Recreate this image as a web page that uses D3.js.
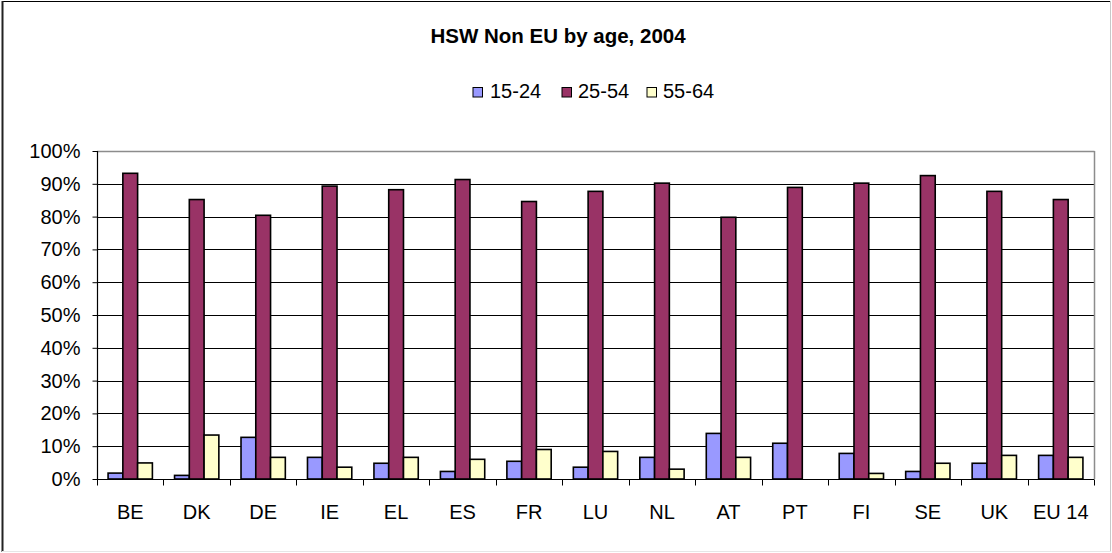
<!DOCTYPE html>
<html>
<head>
<meta charset="utf-8">
<script src="https://cdn.jsdelivr.net/npm/d3@7"></script>
<style>
  html, body { margin: 0; padding: 0; background: #fff; }
  svg { display: block; font-family: "Liberation Sans", Arial, sans-serif; }
</style>
</head>
<body>
<svg id="chart" width="1112" height="553"></svg>
<script>
const categories = ["BE","DK","DE","IE","EL","ES","FR","LU","NL","AT","PT","FI","SE","UK","EU 14"];
const seriesNames = ["15-24","25-54","55-64"];
const age15to24 = [1.8, 1.1, 12.7, 6.6, 4.8, 2.3, 5.4, 3.6, 6.6, 13.9, 10.9, 7.8, 2.3, 4.8, 7.2];
const age25to54 = [93.2, 85.2, 80.4, 89.3, 88.2, 91.3, 84.6, 87.7, 90.2, 79.8, 88.9, 90.2, 92.5, 87.7, 85.2];
const age55to64 = [4.9, 13.4, 6.6, 3.6, 6.6, 6.0, 9.0, 8.4, 3.0, 6.6, 0.0, 1.7, 4.8, 7.2, 6.6];
const yTicks = [0,10,20,30,40,50,60,70,80,90,100];
const colors = ["#9999FF","#993366","#FFFFCC"];

(function () {
const series = [age15to24, age25to54, age55to64];
const svg = d3.select("#chart");

// outer border
svg.append("line").attr("x1",2).attr("y1",1.5).attr("x2",1111).attr("y2",1.5).attr("stroke","#000").attr("stroke-width",1.2);
svg.append("line").attr("x1",2.5).attr("y1",1).attr("x2",2.5).attr("y2",552).attr("stroke","#222").attr("stroke-width",2);
svg.append("line").attr("x1",1110.5).attr("y1",1).attr("x2",1110.5).attr("y2",552).attr("stroke","#c8c8c8").attr("stroke-width",1);
svg.append("line").attr("x1",2).attr("y1",551.5).attr("x2",1111).attr("y2",551.5).attr("stroke","#e6e6e6").attr("stroke-width",1);

const pLeft = 97, pRight = 1094, pTop = 151, pBottom = 479;

const x0 = d3.scaleBand().domain(categories).range([pLeft, pRight]).paddingInner(0).paddingOuter(0);
const bw = x0.bandwidth() / 4.5;
const x1 = d3.scaleBand().domain(seriesNames).range([0, bw * 3]);
const y = d3.scaleLinear().domain([0, 100]).range([pBottom, pTop]);

// title
svg.append("text").attr("x", 558).attr("y", 42.5).attr("text-anchor","middle")
  .attr("font-size", 20.5).attr("font-weight","bold").attr("fill","#000")
  .text("HSW Non EU by age, 2004");

// legend
const legX = [473, 562, 647];
const legTX = [490, 578, 663];
const leg = svg.append("g");
seriesNames.forEach((s, i) => {
  leg.append("rect").attr("x", legX[i]).attr("y", 87.5).attr("width", 9.5).attr("height", 9.5)
    .attr("fill", colors[i]).attr("stroke", "#000").attr("stroke-width", 1);
  leg.append("text").attr("x", legTX[i]).attr("y", 97.5).attr("font-size", 20).attr("fill","#000").text(s);
});

// gridlines
svg.append("g").selectAll("line").data(yTicks.filter(t => t > 0 && t < 100)).join("line")
  .attr("x1", pLeft).attr("x2", pRight)
  .attr("y1", d => Math.round(y(d)) + 0.5).attr("y2", d => Math.round(y(d)) + 0.5)
  .attr("stroke", "#000").attr("stroke-width", 1);

// plot border (top, right) gray
svg.append("line").attr("x1", pLeft).attr("x2", pRight + 0.5).attr("y1", pTop + 0.5).attr("y2", pTop + 0.5)
  .attr("stroke", "#8c8c8c").attr("stroke-width", 1.5);
svg.append("line").attr("x1", pRight + 0.5).attr("x2", pRight + 0.5).attr("y1", pTop).attr("y2", pBottom)
  .attr("stroke", "#8c8c8c").attr("stroke-width", 1.5);

// bars
const groups = svg.append("g").selectAll("g").data(categories).join("g")
  .attr("transform", d => `translate(${x0(d) + (x0.bandwidth() - bw * 3) / 2},0)`);
groups.selectAll("rect").data((d, i) => seriesNames.map((s, j) => ({ s, v: series[j][i], j })))
  .join("rect")
  .attr("x", d => x1(d.s))
  .attr("width", x1.bandwidth())
  .attr("y", d => y(d.v))
  .attr("height", d => y(0) - y(d.v))
  .attr("fill", d => colors[d.j])
  .attr("stroke", "#000").attr("stroke-width", 1.6)
  .attr("display", d => d.v > 0 ? null : "none");

// y axis
const yAxis = d3.axisLeft(y).tickValues(yTicks).tickFormat(d => d + "%").tickSize(5).tickPadding(12);
const ya = svg.append("g").attr("transform", `translate(${pLeft + 0.5},0)`).call(yAxis);
ya.select(".domain").attr("stroke", "#000").attr("stroke-width", 1.2).attr("d", `M0,${pTop}V${pBottom}`);
ya.selectAll(".tick line").attr("stroke", "#000");
ya.selectAll("text").attr("font-size", 20).attr("font-family", "Liberation Sans, Arial, sans-serif").attr("fill", "#000");

// x axis
const xAxis = d3.axisBottom(x0).tickSize(0).tickPadding(25);
const xa = svg.append("g").attr("transform", `translate(0,${pBottom + 0.5})`).call(xAxis);
xa.select(".domain").attr("stroke", "#000").attr("stroke-width", 1.2).attr("d", `M${pLeft},0H${pRight}`);
xa.selectAll("text").attr("font-size", 20).attr("font-family", "Liberation Sans, Arial, sans-serif").attr("fill", "#000");
// category boundary ticks
const bounds = categories.map(c => x0(c)).concat([pRight]);
xa.append("g").selectAll("line").data(bounds).join("line")
  .attr("x1", d => Math.round(d) + 0.5).attr("x2", d => Math.round(d) + 0.5)
  .attr("y1", 0).attr("y2", 6).attr("stroke", "#000").attr("stroke-width", 1);
})();
</script>
</body>
</html>
